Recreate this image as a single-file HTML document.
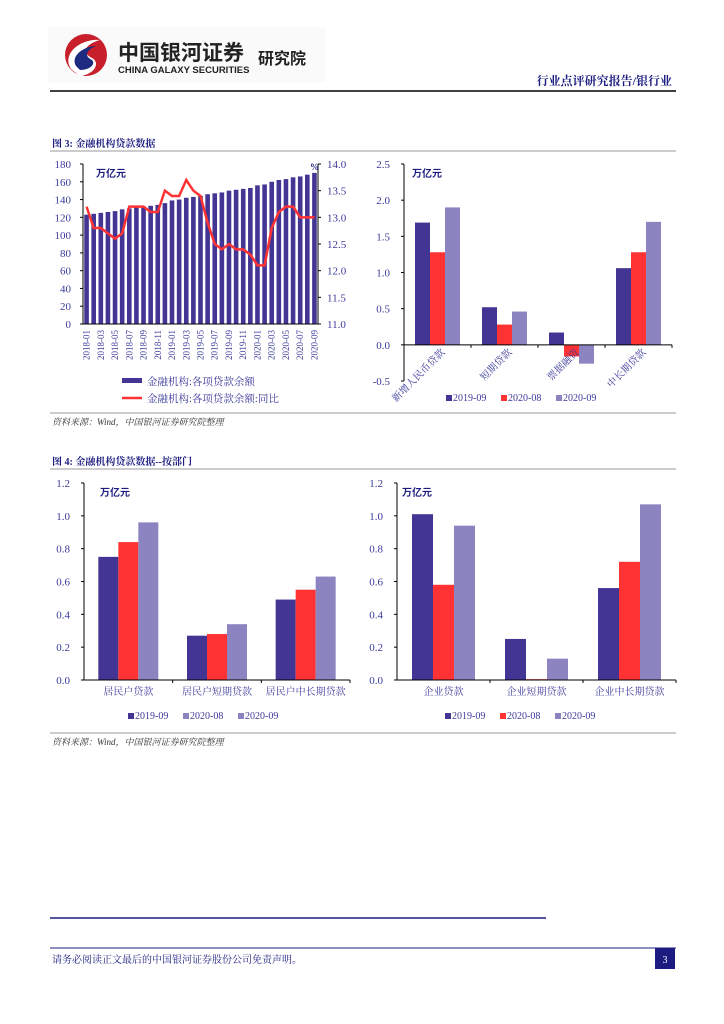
<!DOCTYPE html>
<html><head><meta charset="utf-8">
<style>
body{margin:0;background:#fff;}
svg{display:block;font-family:"Liberation Serif","Noto Serif CJK SC",serif;}
.sans{font-family:"Liberation Sans","Noto Sans CJK SC",sans-serif;}
</style></head>
<body>
<svg id="page" width="724" height="1024" viewBox="0 0 724 1024" xmlns="http://www.w3.org/2000/svg">
  <g>
    <rect x="48" y="27" width="278" height="55" fill="#fafafa"/>
    <circle cx="86" cy="55" r="21" fill="#c8202a"/>
    <path d="M72 70 C 60 55, 80 38, 100 40 C 86 44, 80 52, 92 58 C 100 62, 96 74, 80 76 Z" fill="#fff"/>
    <path d="M76 66 C 70 56, 84 46, 96 46 C 86 50, 84 56, 92 60 C 96 64, 90 70, 80 70 Z" fill="#1c2a80"/>
    <text x="118" y="60" font-size="21" font-weight="bold" fill="#222" class="sans">中国银河证券</text>
    <text x="118" y="73" font-size="9.5" font-weight="bold" fill="#222" class="sans">CHINA GALAXY SECURITIES</text>
    <text x="258" y="64" font-size="16" font-weight="bold" fill="#222" class="sans">研究院</text>
  </g>
  <text x="672" y="85" font-size="12" font-weight="bold" fill="#1c1c80" text-anchor="end">行业点评研究报告/银行业</text>
  <line x1="50" y1="91" x2="676" y2="91" stroke="#000" stroke-width="1.5"/>

  <text x="52" y="147" font-size="10" font-weight="bold" fill="#1c1c80">图 3:  金融机构贷款数据</text>
  <line x1="50" y1="151" x2="676" y2="151" stroke="#999" stroke-width="1"/>
  <line x1="50" y1="413" x2="676" y2="413" stroke="#999" stroke-width="1"/>
  <text x="52" y="425" font-size="9" font-style="italic" fill="#333">资料来源：Wind，中国银河证券研究院整理</text>

  <text x="52" y="465" font-size="10" font-weight="bold" fill="#1c1c80">图 4:  金融机构贷款数据--按部门</text>
  <line x1="50" y1="469" x2="676" y2="469" stroke="#999" stroke-width="1"/>
  <line x1="50" y1="733" x2="676" y2="733" stroke="#999" stroke-width="1"/>
  <text x="52" y="745" font-size="9" font-style="italic" fill="#333">资料来源：Wind，中国银河证券研究院整理</text>

  <line x1="50" y1="918" x2="546" y2="918" stroke="#1c1c80" stroke-width="1.5"/>
  <line x1="50" y1="948" x2="676" y2="948" stroke="#1c1c80" stroke-width="1"/>
  <text x="52" y="963" font-size="10" fill="#1c1c80">请务必阅读正文最后的中国银河证券股份公司免责声明。</text>
  <rect x="655" y="948" width="20" height="21" fill="#1c1c80"/>
  <text x="665" y="963" font-size="10" fill="#fff" text-anchor="middle">3</text>

  <g id="c1"></g>
  <g id="c2"></g>
  <g id="c3"></g>
  <g id="c4"></g>
</svg>
<script>
const months = ["2018-01","2018-02","2018-03","2018-04","2018-05","2018-06","2018-07","2018-08","2018-09","2018-10","2018-11","2018-12","2019-01","2019-02","2019-03","2019-04","2019-05","2019-06","2019-07","2019-08","2019-09","2019-10","2019-11","2019-12","2020-01","2020-02","2020-03","2020-04","2020-05","2020-06","2020-07","2020-08","2020-09"];
const balance = [123,124,125,126,127,129,130,131,132,133,134,136,139,140,142,143,144,146,147,148,150,151,152,153,156,157,160,162,163,165,166,168,170];
const yoy = [13.2,12.8,12.8,12.7,12.6,12.7,13.2,13.2,13.2,13.1,13.1,13.5,13.4,13.4,13.7,13.5,13.4,12.9,12.5,12.4,12.5,12.4,12.4,12.3,12.1,12.1,12.8,13.1,13.2,13.2,13.0,13.0,13.0];
const leftTicks = [0,20,40,60,80,100,120,140,160,180];
const rightTicks = ["11.0","11.5","12.0","12.5","13.0","13.5","14.0"];

const newCats = ["新增人民币贷款","短期贷款","票据融资","中长期贷款"];
const new1909 = [1.69,0.52,0.17,1.06];
const new2008 = [1.28,0.28,-0.16,1.28];
const new2009 = [1.90,0.46,-0.26,1.70];
const newTicks = ["-0.5","0.0","0.5","1.0","1.5","2.0","2.5"];

const hhCats = ["居民户贷款","居民户短期贷款","居民户中长期贷款"];
const hh1909 = [0.75,0.27,0.49];
const hh2008 = [0.84,0.28,0.55];
const hh2009 = [0.96,0.34,0.63];
const corpCats = ["企业贷款","企业短期贷款","企业中长期贷款"];
const corp1909 = [1.01,0.25,0.56];
const corp2008 = [0.58,0.005,0.72];
const corp2009 = [0.94,0.13,1.07];
const sectorTicks = ["0.0","0.2","0.4","0.6","0.8","1.0","1.2"];
const seriesNames = ["2019-09","2020-08","2020-09"];

const C_DARK="#433594", C_RED="#ff3333", C_LIGHT="#8c84c0", AX="#3a3a9a";
const NS="http://www.w3.org/2000/svg";
function mk(parent, tag, attrs, text){
  const e=document.createElementNS(NS,tag);
  for(const k in attrs) e.setAttribute(k,attrs[k]);
  if(text!==undefined) e.textContent=text;
  parent.appendChild(e); return e;
}

// Chart 1
(function(){
  const g=document.getElementById('c1');
  const x0=83,x1=318,yT=164,yB=324;
  const yL=v=>yB-(v/180)*(yB-yT);
  const yR=v=>yB-((v-11)/3)*(yB-yT);
  const step=(x1-x0)/months.length;
  const xc=i=>x0+step*(i+0.5);
  balance.forEach((v,i)=>{
    const r=mk(g,'rect',{x:xc(i)-2.3,y:yL(v),width:4.6,height:yB-yL(v),fill:C_DARK});
    
    
  });
  mk(g,'line',{x1:x0,y1:yT,x2:x0,y2:yB,stroke:'#000'});
  mk(g,'line',{x1:x0,y1:yB,x2:x1,y2:yB,stroke:'#000'});
  mk(g,'line',{x1:x1,y1:yT,x2:x1,y2:yB,stroke:'#000'});
  leftTicks.forEach(t=>{
    mk(g,'line',{x1:x0-3,y1:yL(t),x2:x0,y2:yL(t),stroke:'#000'});
    const tx=mk(g,'text',{x:x0-12,y:yL(t)+4,'font-size':11,fill:AX,'text-anchor':'end'},t);
    
    
  });
  rightTicks.forEach(t=>{
    mk(g,'line',{x1:x1,y1:yR(+t),x2:x1+3,y2:yR(+t),stroke:'#000'});
    const tx=mk(g,'text',{x:x1+9,y:yR(+t)+4,'font-size':11,fill:AX},t);
    
    
  });
  const pl=mk(g,'polyline',{points:yoy.map((v,i)=>xc(i)+','+yR(v)).join(' '),fill:'none',stroke:C_RED,'stroke-width':2.5});
  
  
  months.forEach((m,i)=>{ if(i%2) return;
    const tx=mk(g,'text',{x:0,y:0,'font-size':9,fill:AX,'text-anchor':'end',transform:`translate(${xc(i)+3},${yB+6}) rotate(-90)`},m);
    
    
  });
  mk(g,'text',{x:96,y:177,'font-size':10,'font-weight':'bold',fill:'#1c1c80',class:'sans'},'万亿元');
  mk(g,'text',{x:310,y:170,'font-size':9,'font-weight':'bold',fill:'#1c1c80'},'%');
  mk(g,'rect',{x:122,y:378,width:20,height:5,fill:C_DARK});
  mk(g,'text',{x:147,y:385,'font-size':10.5,fill:AX},'金融机构:各项贷款余额');
  mk(g,'line',{x1:122,y1:398,x2:142,y2:398,stroke:C_RED,'stroke-width':2.5});
  mk(g,'text',{x:147,y:402,'font-size':10.5,fill:AX},'金融机构:各项贷款余额:同比');
})();

function groupChart(id,o){
  const g=document.getElementById(id);
  const y=v=>o.y0-(v-o.vmin)/(o.vmax-o.vmin)*(o.y0-o.yT);
  const gw=(o.x1-o.x0)/o.cats.length;
  const cols=[C_DARK,C_RED,C_LIGHT];
  o.series.forEach((s,si)=>s.forEach((v,i)=>{
    const bx=o.x0+gw*i+(gw-3*o.bw)/2+si*o.bw;
    const top=Math.min(y(v),y(0)), h=Math.abs(y(v)-y(0));
    const r=mk(g,'rect',{x:bx,y:top,width:o.bw,height:Math.max(h,0.5),fill:cols[si]});
    
    
  }));
  mk(g,'line',{x1:o.x0,y1:o.yT,x2:o.x0,y2:o.y0,stroke:'#000'});
  mk(g,'line',{x1:o.x0,y1:y(0),x2:o.x1,y2:y(0),stroke:'#000'});
  for(let i=1;i<=o.cats.length;i++) mk(g,'line',{x1:o.x0+gw*i,y1:y(0),x2:o.x0+gw*i,y2:y(0)+3,stroke:'#000'});
  o.ticks.forEach(t=>{
    mk(g,'line',{x1:o.x0-3,y1:y(+t),x2:o.x0,y2:y(+t),stroke:'#000'});
    const tx=mk(g,'text',{x:o.x0-14,y:y(+t)+4,'font-size':11,fill:AX,'text-anchor':'end'},t);
    
    
  });
  o.cats.forEach((c,i)=>{
    const cx=o.x0+gw*(i+0.5);
    let tx;
    if(o.rot) tx=mk(g,'text',{x:0,y:0,'font-size':10,fill:AX,'text-anchor':'end',transform:`translate(${cx+8},${y(0)+8}) rotate(-45)`},c);
    else tx=mk(g,'text',{x:cx,y:o.y0+15,'font-size':10,fill:AX,'text-anchor':'middle'},c);
    
    
  });
  mk(g,'text',{x:o.ux,y:o.yT+13,'font-size':10,'font-weight':'bold',fill:'#1c1c80',class:'sans'},'万亿元');
  o.legCols.forEach((c,i)=>{
    const lx=o.lx+i*55;
    mk(g,'rect',{x:lx,y:o.ly-6,width:6,height:6,fill:c});
    const tx=mk(g,'text',{x:lx+7,y:o.ly,'font-size':10,fill:AX},seriesNames[i]);
    
    
  });
}
groupChart('c2',{cats:newCats,series:[new1909,new2008,new2009],vmin:-0.5,vmax:2.5,x0:404,x1:672,yT:164,y0:381,bw:15,ticks:newTicks,rot:true,ux:412,lx:446,ly:401,legCols:[C_DARK,C_RED,C_LIGHT]});
groupChart('c3',{cats:hhCats,series:[hh1909,hh2008,hh2009],vmin:0,vmax:1.2,x0:84,x1:350,yT:483,y0:680,bw:20,ticks:sectorTicks,rot:false,ux:100,lx:128,ly:719,legCols:[C_DARK,C_LIGHT,C_LIGHT]});
groupChart('c4',{cats:corpCats,series:[corp1909,corp2008,corp2009],vmin:0,vmax:1.2,x0:397,x1:676,yT:483,y0:680,bw:21,ticks:sectorTicks,rot:false,ux:402,lx:445,ly:719,legCols:[C_DARK,C_RED,C_LIGHT]});
</script>
</body></html>
